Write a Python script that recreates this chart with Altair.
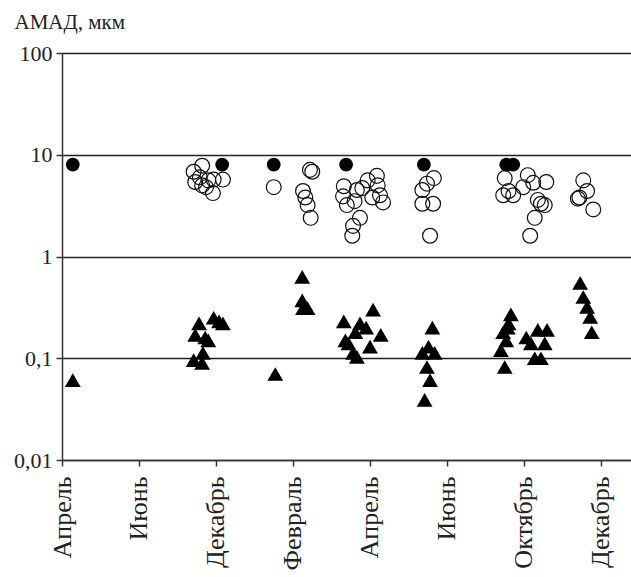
import altair as alt
import pandas as pd

months = ["Апрель", "Июнь", "Декабрь", "Февраль", "Апрель", "Июнь", "Октябрь", "Декабрь"]

# filled circles
fc_x = [0.14, 2.08, 2.75, 3.69, 4.70, 5.77, 5.86]
fc_y = [8.0, 8.0, 8.0, 8.0, 8.0, 8.0, 8.0]

# open circles
oc_x = [1.71, 1.82, 1.73, 1.79, 1.82, 1.90, 1.96, 1.97, 2.09, 1.87,
        2.75, 3.22, 3.25, 3.13, 3.16, 3.19, 3.23,
        3.66, 3.65, 3.70, 3.83, 3.90, 3.97, 4.09, 4.10, 4.03, 4.17, 3.87, 3.78, 3.77, 3.80, 4.13,
        4.83, 4.68, 4.74, 4.68, 4.82, 4.78,
        5.75, 5.73, 5.86, 5.99, 6.05, 6.12, 6.29, 6.18, 6.27, 6.14, 6.08, 5.80, 6.22,
        6.77, 6.82, 6.70, 6.72, 6.90]
oc_y = [6.8, 7.8, 5.4, 6.0, 5.0, 5.6, 4.2, 5.7, 5.7, 4.8,
        4.8, 7.1, 6.8, 4.4, 3.8, 3.2, 2.4,
        4.9, 3.9, 3.2, 4.5, 4.7, 5.6, 6.2, 5.0, 3.8, 3.4, 2.4, 2.0, 1.6, 3.5, 4.0,
        5.9, 4.5, 5.2, 3.3, 3.3, 1.6,
        5.9, 4.0, 4.0, 4.8, 6.3, 5.3, 5.4, 3.6, 3.2, 2.4, 1.6, 4.4, 3.3,
        5.6, 4.4, 3.7, 3.8, 2.9]

# triangles
tr_x = [0.14,
        1.78, 1.73, 1.97, 2.09, 1.90, 1.83, 1.71, 1.82, 2.04, 1.86,
        2.77, 3.12, 3.12, 3.19, 3.13,
        4.04, 3.66, 3.87, 4.14, 3.68, 3.81, 4.00, 3.78, 3.83, 3.95, 3.72,
        4.81, 4.68, 4.84, 4.74, 4.78, 4.71, 4.76,
        5.83, 5.79, 5.73, 5.77, 5.70, 5.75, 6.03, 6.18, 6.30, 6.09, 6.14, 6.22, 6.27, 5.80,
        6.73, 6.77, 6.82, 6.86, 6.88]
tr_y = [0.061,
        0.22, 0.17, 0.25, 0.22, 0.15, 0.113, 0.096, 0.09, 0.23, 0.16,
        0.07, 0.63, 0.37, 0.31, 0.31,
        0.30, 0.23, 0.22, 0.17, 0.15, 0.18, 0.13, 0.113, 0.103, 0.20, 0.14,
        0.20, 0.113, 0.113, 0.082, 0.061, 0.039, 0.13,
        0.27, 0.20, 0.18, 0.15, 0.12, 0.082, 0.16, 0.19, 0.19, 0.14, 0.10, 0.10, 0.14, 0.22,
        0.55, 0.40, 0.32, 0.255, 0.18]

y_ticks = [0.01, 0.1, 1, 10, 100]
x_ticks = list(range(len(months)))

FONT = "Liberation Serif"
month_js = "[" + ",".join("'" + m + "'" for m in months) + "]"

x_enc = alt.X("x:Q",
              scale=alt.Scale(domain=[0, 7.39], nice=False, zero=False),
              axis=alt.Axis(values=x_ticks, labelExpr=month_js + "[datum.value]",
                            labelAngle=-90, labelAlign="right", labelBaseline="middle",
                            labelFont=FONT, labelFontSize=26, labelColor="#222",
                            labelPadding=10, tickSize=6, tickColor="#333", tickWidth=1.5,
                            domainColor="#333", domainWidth=1.5, grid=False, title=None,
                            labelOverlap=False))
y_enc = alt.Y("y:Q",
              scale=alt.Scale(type="log", domain=[0.01, 100], nice=False),
              axis=alt.Axis(values=y_ticks,
                            labelExpr="replace(toString(datum.value), '.', ',')",
                            labelFont=FONT, labelFontSize=22, labelColor="#222",
                            labelPadding=4, tickSize=6, tickColor="#333", tickWidth=1.5,
                            domainColor="#333", domainWidth=1.5,
                            grid=True, gridColor="#222", gridWidth=1.6,
                            title="АМАД, мкм", titleAngle=0, titleAlign="left",
                            titleBaseline="middle", titleX=-48, titleY=-31,
                            titleFont=FONT, titleFontSize=21, titleFontWeight="normal",
                            titleColor="#222"))

df_fc = pd.DataFrame({"x": fc_x, "y": fc_y})
df_oc = pd.DataFrame({"x": oc_x, "y": oc_y})
df_tr = pd.DataFrame({"x": tr_x, "y": tr_y})

open_c = alt.Chart(df_oc).mark_point(shape="circle", size=220, filled=False,
                                      stroke="#111", strokeWidth=1.2, opacity=1).encode(x=x_enc, y=y_enc)
filled_c = alt.Chart(df_fc).mark_point(shape="circle", size=190, filled=True,
                                        color="#000", opacity=1).encode(x=x_enc, y=y_enc)
tri = alt.Chart(df_tr).mark_point(shape="triangle-up", size=250, filled=True,
                                  color="#000", opacity=1).encode(x=x_enc, y=y_enc)

chart = alt.layer(open_c, filled_c, tri).properties(
    width=569, height=407,
    autosize=alt.AutoSizeParams(type="none"),
    padding={"left": 62, "top": 53, "right": 0, "bottom": 117},
    background="white",
).configure_view(stroke=None)

chart.save("out.html", embed_options={"renderer": "svg", "actions": False})
